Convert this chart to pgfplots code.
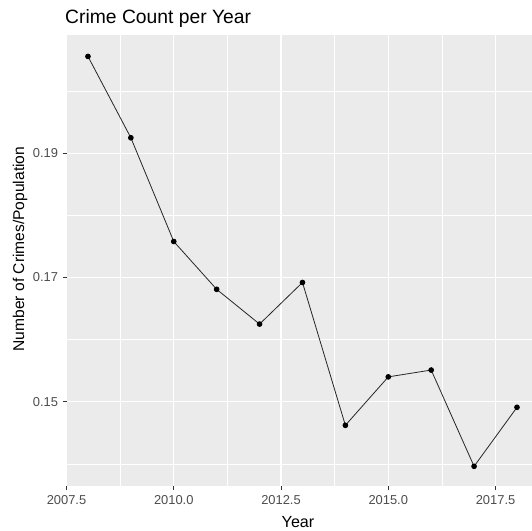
\documentclass[border=0pt]{standalone}
\usepackage{pgfplots}
\pgfplotsset{compat=1.18}
\usepackage{fontspec}
\setmainfont{Liberation Sans}
\definecolor{panelbg}{HTML}{EBEBEB}
\definecolor{gthirty}{HTML}{4D4D4D}
\definecolor{gtwenty}{HTML}{333333}
\begin{document}
\begin{tikzpicture}[x=1pt,y=1pt]
\path[use as bounding box] (0,0) rectangle (532,530);
\begin{axis}[
  at={(66.5pt,44pt)}, anchor=south west,
  scale only axis, width=465.5pt, height=451pt,
  xmin=2007.5, xmax=2018.35, ymin=0.13643, ymax=0.20905,
  axis background/.style={fill=panelbg},
  axis line style={draw=none},
  xtick={2007.5,2010,2012.5,2015,2017.5},
  xticklabels={2007.5,2010.0,2012.5,2015.0,2017.5},
  ytick={0.15,0.17,0.19},
  yticklabels={0.15,0.17,0.19},
  minor xtick={2008.75,2011.25,2013.75,2016.25},
  minor ytick={0.14,0.16,0.18,0.20},
  grid=both,
  major grid style={white, line width=1.1pt},
  minor grid style={white, line width=0.55pt},
  tick pos=left,
  major tick length=4pt, minor tick length=0pt,
  tick style={gtwenty, line width=0.8pt},
  tick align=outside,
  ticklabel style={font=\fontsize{12.9}{14}\selectfont, text=gthirty},
  /pgf/number format/assume math mode=true,
  xticklabel style={yshift=-2pt},
  yticklabel style={xshift=-1pt},
  clip=false,
]
\addplot[black!85, line width=0.8pt, mark=*, mark size=2.4pt, mark options={black}] coordinates {
(2008,0.2056) (2009,0.1925) (2010,0.1758) (2011,0.1681) (2012,0.1625)
(2013,0.1692) (2014,0.1462) (2015,0.1540) (2016,0.1551) (2017,0.1396)
(2018,0.1491)
};
\end{axis}
\node[anchor=base west, inner sep=0pt, font=\fontsize{19.3}{22}\selectfont] at (65,506) {Crime Count per Year};
\node[anchor=base, inner sep=0pt, font=\fontsize{16.1}{18}\selectfont] at (298,3) {Year};
\node[anchor=base, inner sep=0pt, rotate=90, font=\fontsize{15.6}{18}\selectfont] at (24,281) {Number of Crimes/Population};
\end{tikzpicture}
\end{document}
